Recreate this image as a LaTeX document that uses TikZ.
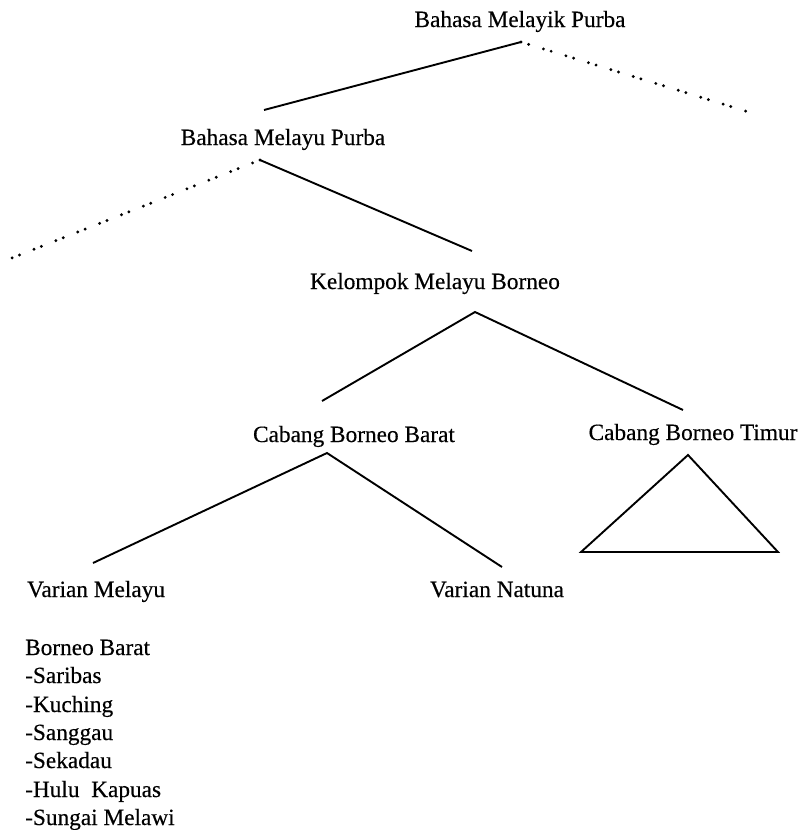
\documentclass[tikz,border=0pt]{standalone}
\usepackage{fontspec}
\setmainfont[FakeBold=0.4]{Liberation Serif}
\begin{document}
\begin{tikzpicture}[x=1pt,y=-1pt,
  lbl/.style={inner sep=0pt,anchor=base,font=\fontsize{23.3}{28.4}\selectfont},
  branch/.style={line width=1.9pt},
  dotbranch/.style={line width=3.2pt,line cap=round,dash pattern=on 0pt off 8pt on 0pt off 15.5pt}]
\useasboundingbox (0,0) rectangle (800,830);
% labels
\node[lbl] (melayik) at (520,27) {Bahasa Melayik Purba};
\node[lbl] (melayu) at (283,145) {Bahasa Melayu Purba};
\node[lbl] (kelompok) at (435,289) {Kelompok Melayu Borneo};
\node[lbl] (barat) at (354,442) {Cabang Borneo Barat};
\node[lbl] (timur) at (693,440) {Cabang Borneo Timur};
\node[lbl,anchor=base west] (vmelayu) at (27,597) {Varian Melayu};
\node[lbl] (vnatuna) at (497,597) {Varian Natuna};
\node[lbl,anchor=base west] (list) at (25,655) {Borneo Barat};
\node[lbl,anchor=base west] (l1) at (25,683) {-Saribas};
\node[lbl,anchor=base west] (l2) at (25,712) {-Kuching};
\node[lbl,anchor=base west] (l3) at (25,740) {-Sanggau};
\node[lbl,anchor=base west] (l4) at (25,768) {-Sekadau};
\node[lbl,anchor=base west] (l5) at (25,797) {-Hulu\ \ Kapuas};
\node[lbl,anchor=base west] (l6) at (25,825) {-Sungai Melawi};
% connector end points
\coordinate (mkTop) at (521,42);
\coordinate (mkRight) at (752,113);
\coordinate (muIn) at (264,110);
\coordinate (muTop) at (260,160);
\coordinate (muLeft) at (12,258);
\coordinate (kIn) at (472,251);
\coordinate (kTop) at (475,312);
\coordinate (bIn) at (322,401);
\coordinate (tIn) at (683,410);
\coordinate (bTop) at (327,453);
\coordinate (vmIn) at (93,563);
\coordinate (vnIn) at (502,567);
\coordinate (triA) at (688,455);
\coordinate (triB) at (581,552);
\coordinate (triC) at (778,552);
% connectors
\draw[branch] (mkTop) -- (muIn);
\draw[dotbranch] (mkTop) -- (mkRight);
\draw[branch] (muTop) -- (kIn);
\draw[dotbranch] (muTop) -- (muLeft);
\draw[branch] (bIn) -- (kTop) -- (tIn);
\draw[branch] (vmIn) -- (bTop) -- (vnIn);
\draw[branch,line join=miter] (triA) -- (triB) -- (triC) -- cycle;
\end{tikzpicture}
\end{document}
